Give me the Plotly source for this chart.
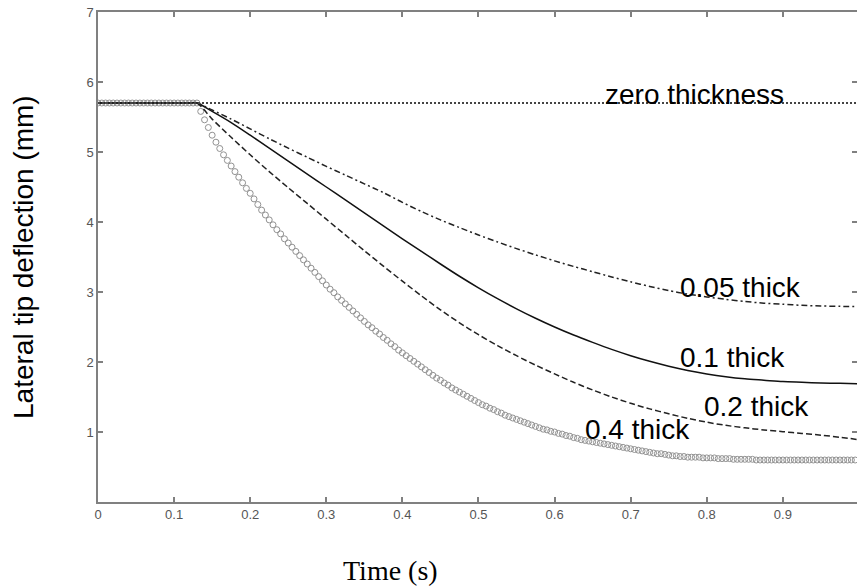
import plotly.graph_objects as go

# ---------------- data ----------------
# 0.4 thick: sampled every 0.005 s from 0 to 0.995 s
t_04_step = 0.005
y_04 = [
    5.70, 5.70, 5.70, 5.70, 5.70, 5.70, 5.70, 5.70, 5.70, 5.70,
    5.70, 5.70, 5.70, 5.70, 5.70, 5.70, 5.70, 5.70, 5.70, 5.70,
    5.70, 5.70, 5.70, 5.70, 5.70, 5.70, 5.70,
    5.58, 5.46, 5.35, 5.24, 5.14, 5.05, 4.96, 4.88, 4.80, 4.72,
    4.64, 4.56, 4.48, 4.41, 4.33, 4.25, 4.17, 4.10, 4.03, 3.96,
    3.89, 3.83, 3.76, 3.70, 3.64, 3.58, 3.52, 3.46, 3.40, 3.34,
    3.28, 3.22, 3.16, 3.10, 3.04, 2.99, 2.93, 2.88, 2.83, 2.78,
    2.73, 2.68, 2.63, 2.58, 2.53, 2.49, 2.44, 2.40, 2.35, 2.31,
    2.26, 2.22, 2.17, 2.13, 2.09, 2.05, 2.01, 1.97, 1.93, 1.89,
    1.85, 1.81, 1.77, 1.74, 1.70, 1.67, 1.63, 1.60, 1.57, 1.54,
    1.51, 1.48, 1.45, 1.42, 1.39, 1.37, 1.34, 1.32, 1.29, 1.27,
    1.24, 1.22, 1.20, 1.18, 1.16, 1.14, 1.12, 1.10, 1.08, 1.06,
    1.04, 1.03, 1.01, 1.00, 0.98, 0.97, 0.95, 0.94, 0.92, 0.91,
    0.89, 0.88, 0.87, 0.86, 0.85, 0.84, 0.83, 0.82, 0.81, 0.80,
    0.79, 0.78, 0.77, 0.76, 0.75, 0.74, 0.73, 0.72, 0.71, 0.70,
    0.69, 0.69, 0.68, 0.67, 0.66, 0.66, 0.65, 0.65, 0.64, 0.64,
    0.64, 0.64, 0.63, 0.63, 0.63, 0.63, 0.62, 0.62, 0.62, 0.62,
    0.61, 0.61, 0.61, 0.61, 0.61, 0.61, 0.60,
    0.60, 0.60, 0.60, 0.60, 0.60, 0.60, 0.60, 0.60, 0.60, 0.60,
    0.60, 0.60, 0.60, 0.60, 0.60, 0.60, 0.60, 0.60, 0.60, 0.60,
    0.60, 0.60, 0.60, 0.60, 0.60, 0.60,
]
t_04 = [round(i * t_04_step, 3) for i in range(len(y_04))]

# line series times
t_lines = [0.0, 0.12, 0.13, 0.15, 0.175, 0.20, 0.225, 0.25, 0.275, 0.30, 0.325,
           0.35, 0.375, 0.40, 0.425, 0.45, 0.475, 0.50, 0.525, 0.55, 0.575,
           0.60, 0.625, 0.65, 0.675, 0.70, 0.725, 0.75, 0.775, 0.80, 0.825,
           0.85, 0.875, 0.90, 0.925, 0.95, 0.975, 1.00]

y_005 = [5.70, 5.70, 5.70, 5.60, 5.47, 5.33, 5.19, 5.055, 4.925, 4.795, 4.67,
         4.545, 4.42, 4.28, 4.15, 4.03, 3.92, 3.815, 3.715, 3.62, 3.53,
         3.445, 3.365, 3.29, 3.215, 3.145, 3.08, 3.02, 2.97, 2.93, 2.895,
         2.865, 2.84, 2.825, 2.81, 2.80, 2.795, 2.79]

y_01 = [5.70, 5.70, 5.70, 5.58, 5.42, 5.24, 5.055, 4.87, 4.685, 4.50, 4.315,
        4.13, 3.945, 3.76, 3.58, 3.40, 3.225, 3.06, 2.905, 2.76, 2.625,
        2.50, 2.385, 2.28, 2.18, 2.09, 2.01, 1.94, 1.88, 1.83, 1.79,
        1.76, 1.74, 1.72, 1.71, 1.70, 1.695, 1.69]

y_02 = [5.70, 5.70, 5.70, 5.47, 5.21, 4.96, 4.72, 4.49, 4.265, 4.04, 3.815,
        3.59, 3.37, 3.155, 2.945, 2.745, 2.56, 2.39, 2.235, 2.09, 1.955,
        1.83, 1.71, 1.60, 1.50, 1.41, 1.33, 1.26, 1.195, 1.14, 1.095,
        1.06, 1.03, 1.005, 0.98, 0.955, 0.925, 0.89]

t_zero = [0.0, 1.0]
y_zero = [5.70, 5.70]

x_ticks = [0, 0.1, 0.2, 0.3, 0.4, 0.5, 0.6, 0.7, 0.8, 0.9]
x_tick_text = ["0", "0.1", "0.2", "0.3", "0.4", "0.5", "0.6", "0.7", "0.8", "0.9"]
y_ticks = [1, 2, 3, 4, 5, 6, 7]

labels = ["zero thickness", "0.05 thick", "0.1 thick", "0.2 thick", "0.4 thick"]
label_x = [0.664, 0.762, 0.762, 0.794, 0.637]
label_y = [5.82, 3.07, 2.06, 1.37, 1.03]

# ---------------- figure ----------------
fig = go.Figure()

fig.add_trace(go.Scatter(
    x=t_04, y=y_04, mode="markers",
    marker=dict(symbol="circle-open", size=6, color="#929292",
                line=dict(width=1, color="#929292")),
    showlegend=False, hoverinfo="skip"))

fig.add_trace(go.Scatter(
    x=t_lines, y=y_02, mode="lines",
    line=dict(color="#222222", width=1.5, dash="6px,3px", shape="spline", smoothing=0.8),
    showlegend=False, hoverinfo="skip"))

fig.add_trace(go.Scatter(
    x=t_lines, y=y_01, mode="lines",
    line=dict(color="#111111", width=1.5, shape="spline", smoothing=0.8),
    showlegend=False, hoverinfo="skip"))

fig.add_trace(go.Scatter(
    x=t_lines, y=y_005, mode="lines",
    line=dict(color="#222222", width=1.5, dash="6px,3px,2px,3px", shape="spline", smoothing=0.8),
    showlegend=False, hoverinfo="skip"))

fig.add_trace(go.Scatter(
    x=t_zero, y=y_zero, mode="lines", yaxis="y2",
    line=dict(color="#444444", width=2, dash="2px,2px"),
    showlegend=False, hoverinfo="skip"))

for txt, lx, ly in zip(labels, label_x, label_y):
    fig.add_annotation(x=lx, y=ly, xref="x", yref="y", text=txt, showarrow=False,
                       xanchor="left", yanchor="middle",
                       font=dict(family="Liberation Sans, Arial", size=28, color="#000000"))

fig.add_annotation(x=-0.0988, y=0.5, xref="paper", yref="paper",
                   text="Lateral tip deflection (mm)", textangle=-90, showarrow=False,
                   xanchor="center", yanchor="middle",
                   font=dict(family="Liberation Sans, Arial", size=28, color="#000000"))

fig.add_annotation(x=0.386, y=-0.139, xref="paper", yref="paper",
                   text="Time (s)", showarrow=False,
                   xanchor="center", yanchor="middle",
                   font=dict(family="Liberation Serif, Times New Roman", size=28, color="#000000"))

axis_col = "#808080"
tick_font = dict(family="Liberation Sans, Arial", size=13, color="#555555")

fig.update_layout(
    width=857, height=588,
    margin=dict(l=98, r=0, t=12, b=86),
    paper_bgcolor="white", plot_bgcolor="white",
    xaxis=dict(range=[0, 0.9974], tickvals=x_ticks, ticktext=x_tick_text,
               showgrid=False, zeroline=False, showline=True, linecolor=axis_col,
               linewidth=1.5, mirror="ticks", ticks="inside", ticklen=5,
               tickcolor=axis_col, tickwidth=1.5, tickfont=tick_font),
    yaxis=dict(range=[0, 7], tickvals=y_ticks, ticklabeloverflow="allow",
               showgrid=False, zeroline=False, showline=True, linecolor=axis_col,
               linewidth=1.5, mirror=False, ticks="inside", ticklen=5,
               tickcolor=axis_col, tickwidth=1.5, tickfont=tick_font),
    yaxis2=dict(range=[0, 7], tickvals=y_ticks, overlaying="y", side="right",
                showgrid=False, zeroline=False, showline=False, ticks="inside",
                ticklen=5, tickcolor=axis_col, tickwidth=1.5, showticklabels=False),
    showlegend=False,
)

# remove the default 8 px page margin so the figure fills the window exactly
fig.write_html("out.html", config={"displayModeBar": False},
               post_script="document.body.style.margin='0';")
